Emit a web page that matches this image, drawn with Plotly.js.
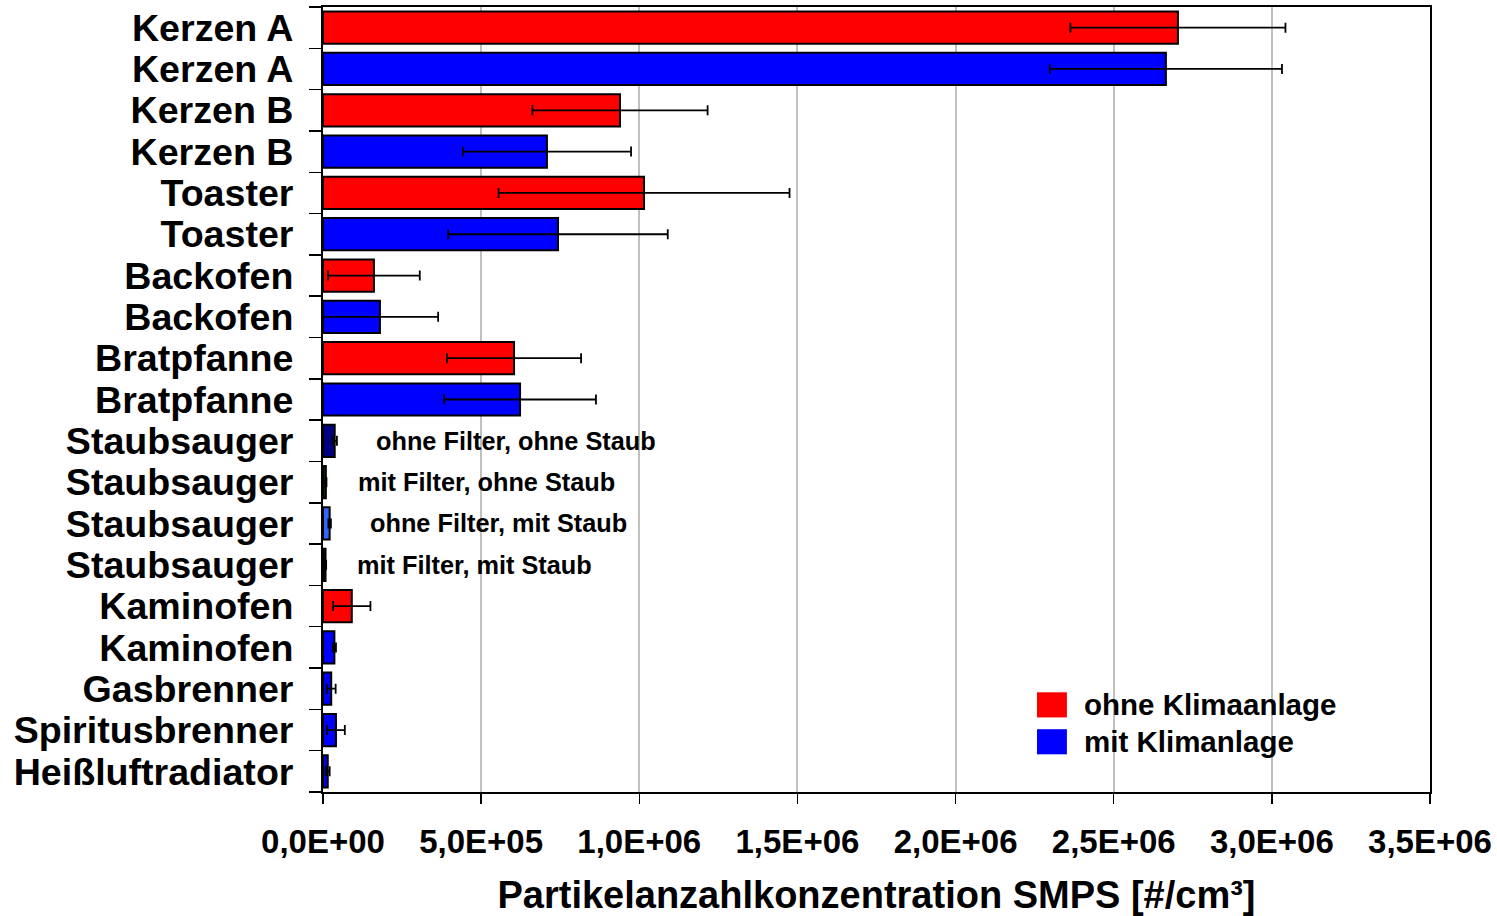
<!DOCTYPE html>
<html>
<head>
<meta charset="utf-8">
<script src="https://cdn.plot.ly/plotly-3.0.1.min.js"></script>
<style>
  html, body { margin: 0; padding: 0; background: #fff; }
  #chart { width: 1497px; height: 916px; }
</style>
</head>
<body>
<div id="chart"></div>
<script>
// Rows from top to bottom
const rowLabels = [
  'Kerzen A', 'Kerzen A', 'Kerzen B', 'Kerzen B', 'Toaster', 'Toaster',
  'Backofen', 'Backofen', 'Bratpfanne', 'Bratpfanne',
  'Staubsauger', 'Staubsauger', 'Staubsauger', 'Staubsauger',
  'Kaminofen', 'Kaminofen', 'Gasbrenner', 'Spiritusbrenner', 'Heißluftradiator'
];
// Mean particle number concentration [#/cm³]
const rowValues = [
  2.703e6, 2.665e6, 0.939e6, 0.708e6, 1.015e6, 0.743e6,
  0.161e6, 0.180e6, 0.604e6, 0.623e6,
  0.037e6, 0.009e6, 0.021e6, 0.008e6,
  0.091e6, 0.036e6, 0.026e6, 0.041e6, 0.015e6
];
// Standard deviation
const rowErrors = [
  0.340e6, 0.367e6, 0.277e6, 0.266e6, 0.460e6, 0.347e6,
  0.145e6, 0.184e6, 0.212e6, 0.240e6,
  0.007e6, 0.002e6, 0.004e6, 0.002e6,
  0.059e6, 0.005e6, 0.014e6, 0.028e6, 0.006e6
];
// Series of each row: 'ohne' / 'mit' Klimaanlage, or a vacuum-cleaner variant
const rowSeries = [
  'ohne', 'mit', 'ohne', 'mit', 'ohne', 'mit',
  'ohne', 'mit', 'ohne', 'mit',
  'vac1', 'vac2', 'vac3', 'vac4',
  'ohne', 'mit', 'mit', 'mit', 'mit'
];
const vacuumNotes = [
  'ohne Filter, ohne Staub', 'mit Filter, ohne Staub',
  'ohne Filter, mit Staub', 'mit Filter, mit Staub'
];
const legendNames = ['ohne Klimaanlage', 'mit Klimanlage'];
const xTickValues = [0, 0.5e6, 1.0e6, 1.5e6, 2.0e6, 2.5e6, 3.0e6, 3.5e6];
const xTickLabels = ['0,0E+00', '5,0E+05', '1,0E+06', '1,5E+06', '2,0E+06', '2,5E+06', '3,0E+06', '3,5E+06'];

const FONT = 'Liberation Sans, Arial, Helvetica, sans-serif';
const seriesColor = { ohne: '#ff0000', mit: '#0000ff', vac1: '#000080', vac2: '#003300', vac3: '#3366ff', vac4: '#101010' };

const rowIdx = rowLabels.map((_, i) => i);

function traceFor(keys) {
  const idx = rowIdx.filter(i => keys.includes(rowSeries[i]));
  return {
    type: 'bar',
    orientation: 'h',
    x: idx.map(i => rowValues[i]),
    y: idx,
    width: 0.78,
    showlegend: false,
    hoverinfo: 'x',
    marker: {
      color: idx.map(i => seriesColor[rowSeries[i]]),
      line: { color: '#000', width: 2 }
    },
    error_x: {
      type: 'data',
      array: idx.map(i => rowErrors[i]),
      visible: true,
      color: '#000',
      thickness: 1.8,
      width: 5
    }
  };
}

const traces = [traceFor(['ohne']), traceFor(['mit']), traceFor(['vac1', 'vac2', 'vac3', 'vac4'])];

// Labels next to the vacuum-cleaner bars
const noteX = [0.162e6, 0.105e6, 0.143e6, 0.101e6];
const vacRows = rowIdx.filter(i => rowSeries[i].startsWith('vac'));
const annotations = vacRows.map((r, k) => ({
  x: noteX[k], y: r, xref: 'x', yref: 'y',
  text: vacuumNotes[k], showarrow: false, xanchor: 'left', yanchor: 'middle',
  font: { family: FONT, size: 25.3, color: '#000', weight: 'bold' }
}));

// Legend drawn as swatches and text
const shapes = [];
const legendColors = [seriesColor.ohne, seriesColor.mit];
const legendY = [0.111, 0.064];
legendNames.forEach((name, k) => {
  shapes.push({
    type: 'rect', xref: 'paper', yref: 'paper',
    x0: 0.645, x1: 0.672, y0: legendY[k] - 0.016, y1: legendY[k] + 0.016,
    fillcolor: legendColors[k], line: { width: 0 }
  });
  annotations.push({
    x: 0.6853, y: legendY[k], xref: 'paper', yref: 'paper',
    text: name, showarrow: false, xanchor: 'left', yanchor: 'middle',
    font: { family: FONT, size: 29.5, color: '#000', weight: 'bold' }
  });
});

const layout = {
  width: 1497, height: 916,
  paper_bgcolor: '#fff', plot_bgcolor: '#fff',
  margin: { l: 323, r: 67, t: 7, b: 124 },
  bargap: 0.2,
  showlegend: false,
  font: { family: FONT, color: '#000' },
  xaxis: {
    range: [0, 3.5e6],
    tickvals: xTickValues,
    ticktext: xTickLabels,
    ticks: 'outside', ticklen: 10, tickwidth: 1.5, tickcolor: '#000',
    ticklabelstandoff: 9,
    tickfont: { family: FONT, size: 33, color: '#000', weight: 'bold' },
    showgrid: true, gridcolor: '#c0c0c0', gridwidth: 2,
    zeroline: false,
    showline: true, linecolor: '#000', linewidth: 2, mirror: true,
    title: {
      text: 'Partikelanzahlkonzentration SMPS [#/cm³]',
      font: { family: FONT, size: 38, color: '#000', weight: 'bold' },
      standoff: 37
    }
  },
  yaxis: {
    range: [rowLabels.length - 0.5, -0.5],
    tickvals: rowIdx,
    ticktext: rowLabels,
    ticks: '',
    ticklabelstandoff: 20,
    tickfont: { family: FONT, size: 37.6, color: '#000', weight: 'bold' },
    showgrid: false, zeroline: false,
    showline: true, linecolor: '#000', linewidth: 2, mirror: true,
    minor: { tick0: -0.5, dtick: 1, ticks: 'outside', ticklen: 12, tickwidth: 1.5, tickcolor: '#000', showgrid: false }
  },
  shapes: shapes,
  annotations: annotations
};

Plotly.newPlot('chart', traces, layout, { displayModeBar: false, staticPlot: true });
</script>
</body>
</html>
